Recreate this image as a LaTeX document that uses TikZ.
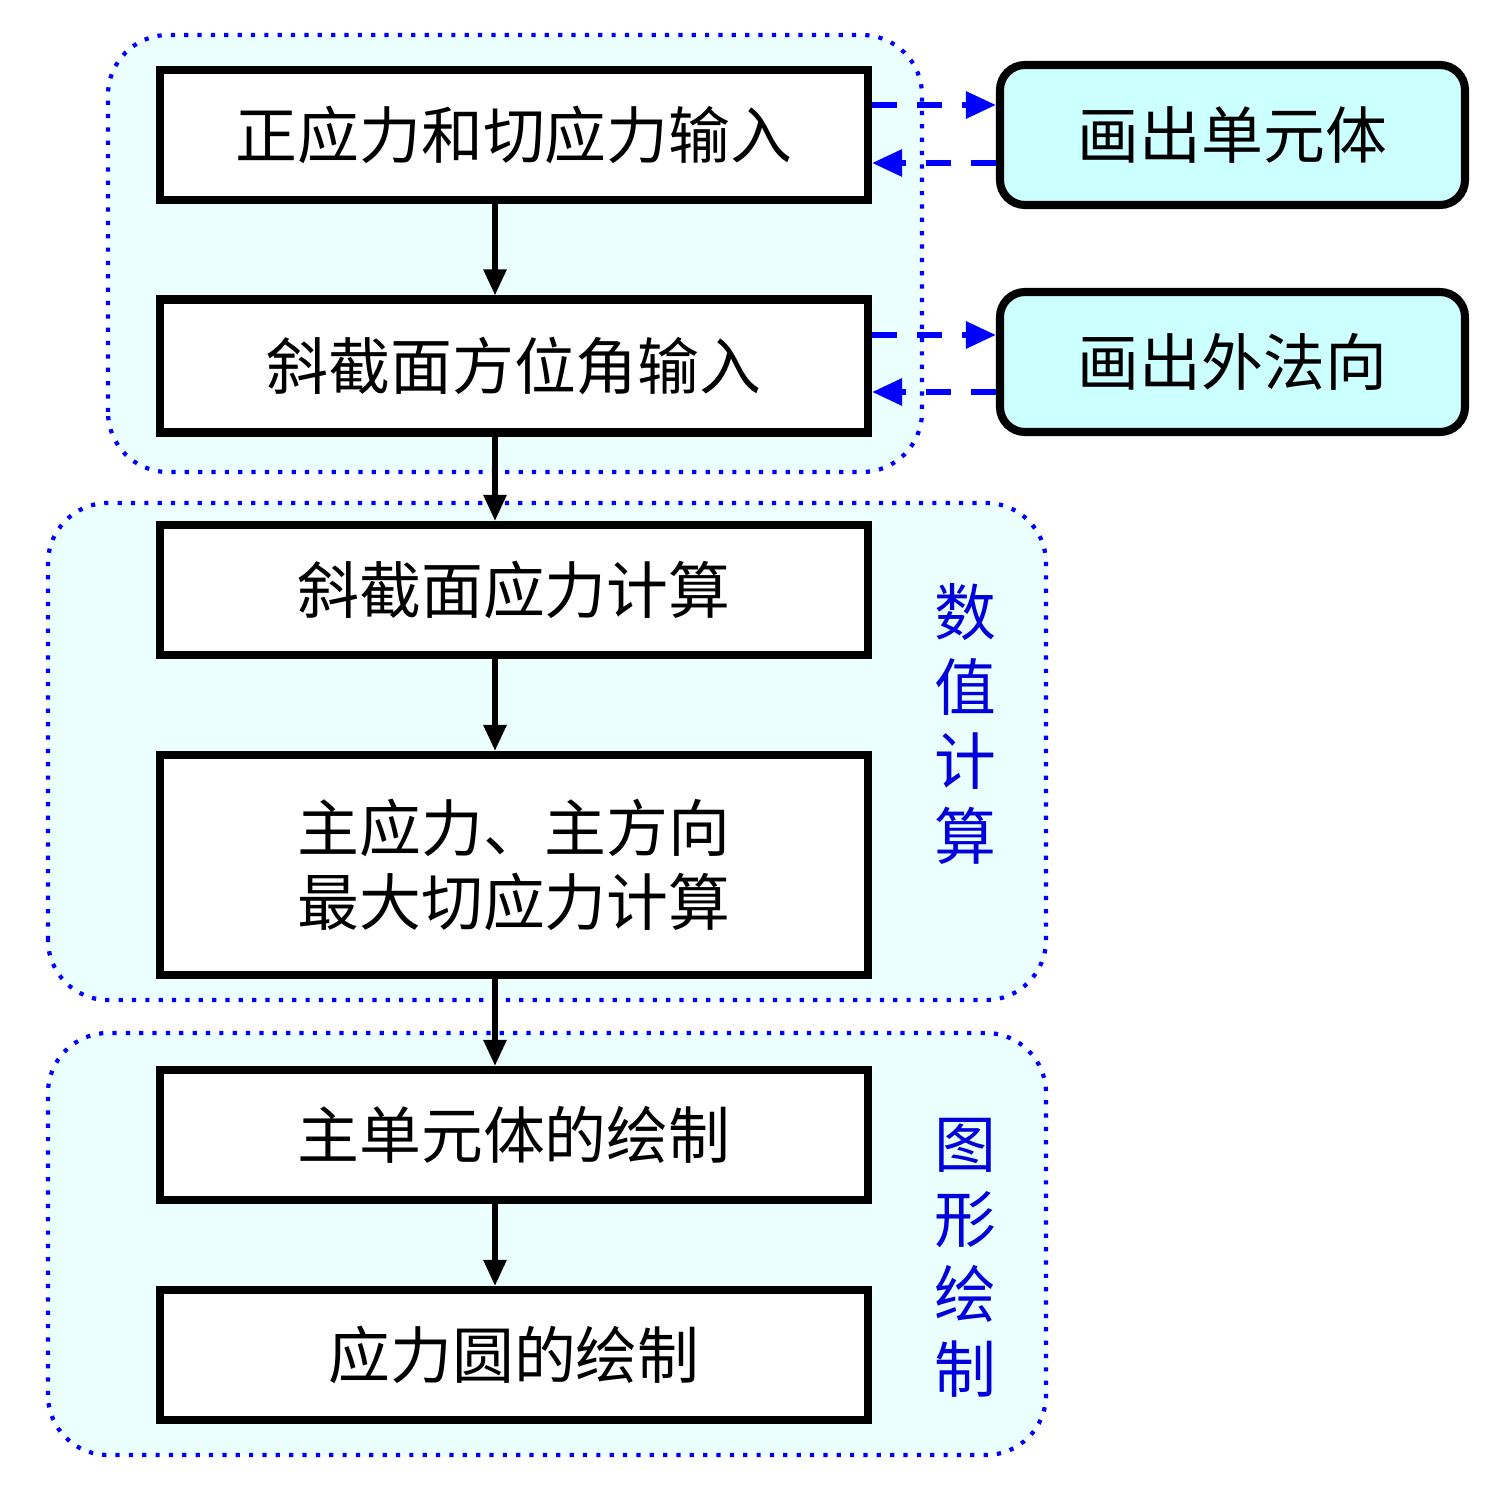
\documentclass[tikz,border=0pt]{standalone}
\usepackage{fontspec}
\newfontfamily\cjk{Noto Sans CJK SC}
\usetikzlibrary{arrows.meta}

\definecolor{groupfill}{RGB}{236,255,255}
\definecolor{sidefill}{RGB}{204,255,255}
\definecolor{grouptext}{RGB}{0,0,220}

\tikzset{
  step box/.style={draw=black, line width=2.3pt, fill=white, minimum width=7.08cm,
    font=\cjk\fontsize{17.6}{21.3}\selectfont, align=center},
  side box/.style={draw=black, line width=2.3pt, fill=sidefill, rounded corners=0.25cm,
    minimum width=4.65cm, minimum height=1.40cm, font=\cjk\fontsize{17.6}{21.3}\selectfont},
  group/.style={draw=blue, fill=groupfill, line width=1.2pt, dash pattern=on 1.2pt off 2.6pt,
    rounded corners=0.6cm},
  group label/.style={text=grouptext, align=center, font=\cjk\fontsize{17.6}{21.3}\selectfont},
  flow/.style={-{Triangle[length=0.26cm,width=0.22cm]}, line width=1.6pt, black},
  link/.style={-{Triangle[length=0.3cm,width=0.26cm]}, line width=1.7pt, blue,
    dash pattern=on 0.25cm off 0.2cm}
}

\begin{document}
\begin{tikzpicture}
\useasboundingbox (0,0) rectangle (14.96,15);
% group backgrounds
\draw[group] (1.08,10.28) rectangle (9.22,14.65);
\draw[group] (0.48,5.00) rectangle (10.46,9.97);
\draw[group] (0.48,0.45) rectangle (10.46,4.67);
% main column
\node[step box, minimum height=1.30cm] (input) at (5.14,13.65) {正应力和切应力输入};
\node[step box, minimum height=1.33cm] (angle) at (5.14,11.34) {斜截面方位角输入};
\node[step box, minimum height=1.30cm] (oblique) at (5.14,9.10) {斜截面应力计算};
\node[step box, minimum height=2.20cm] (principal) at (5.14,6.35) {主应力、主方向\\最大切应力计算};
\node[step box, minimum height=1.30cm] (element) at (5.14,3.65) {主单元体的绘制};
\node[step box, minimum height=1.30cm] (circle) at (5.14,1.45) {应力圆的绘制};
% side boxes
\node[side box] (drawelem) at (12.325,13.65) {画出单元体};
\node[side box] (drawnormal) at (12.325,11.38) {画出外法向};
% group labels
\node[group label] (numlabel) at (9.65,7.76) {数\\值\\计\\算};
\node[group label] (figlabel) at (9.65,2.42) {图\\形\\绘\\制};
% flow arrows
\foreach \a/\b in {input/angle, angle/oblique, oblique/principal, principal/element, element/circle}
  \draw[flow] ([xshift=-0.19cm]\a.south) -- ([xshift=-0.19cm]\b.north);
% dashed links
\draw[link] ([yshift=0.30cm]input.east) -- ([yshift=0.30cm]input.east -| drawelem.west);
\draw[link] ([yshift=-0.28cm]input.east -| drawelem.west) -- ([yshift=-0.28cm]input.east);
\draw[link] ([yshift=0.31cm]angle.east) -- ([yshift=0.31cm]angle.east -| drawnormal.west);
\draw[link] ([yshift=-0.26cm]angle.east -| drawnormal.west) -- ([yshift=-0.26cm]angle.east);
\end{tikzpicture}
\end{document}
